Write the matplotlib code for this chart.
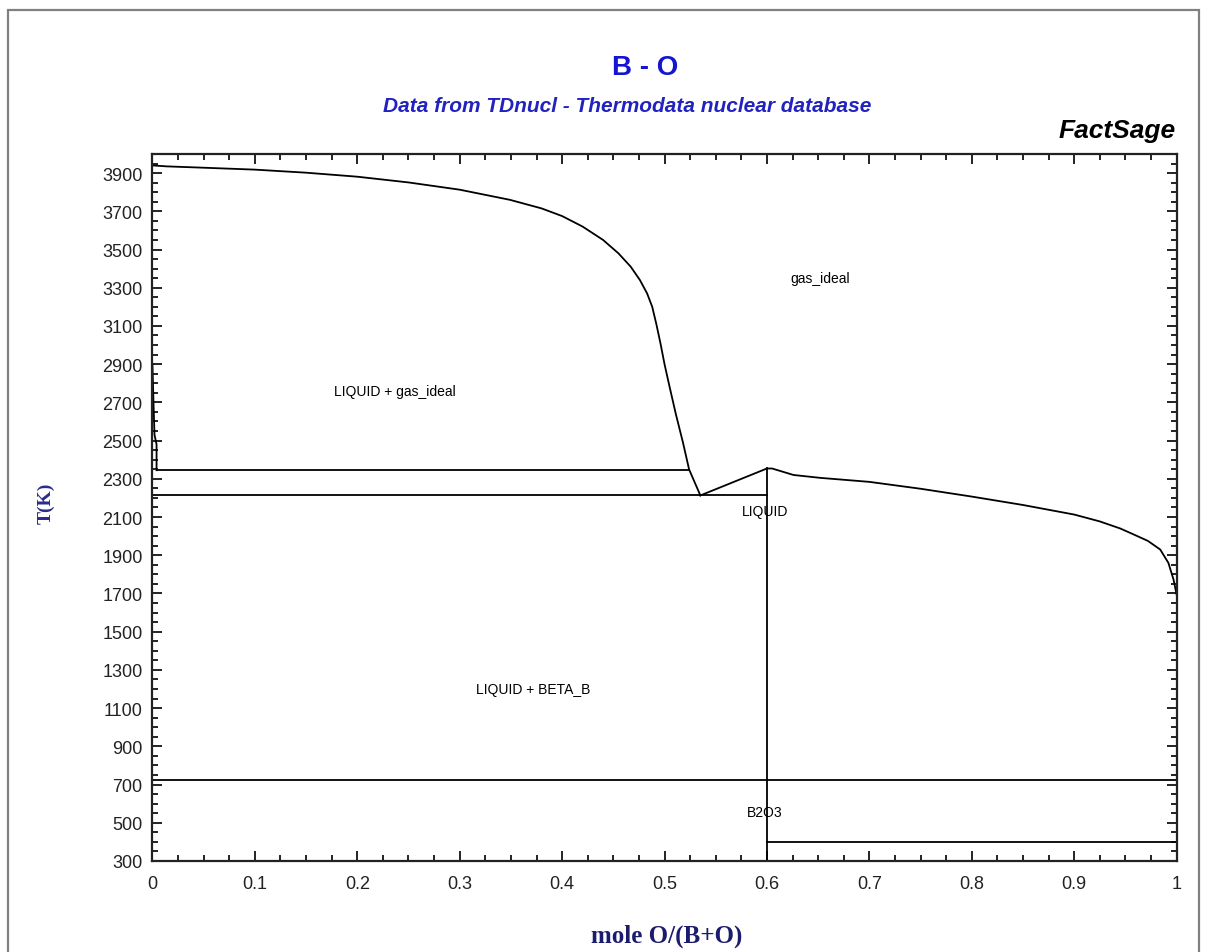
import matplotlib
matplotlib.use('Agg')
from matplotlib import pyplot as plt
from matplotlib.patches import Rectangle
from matplotlib.ticker import MultipleLocator, FixedLocator

# upper boundary: LIQUID + gas_ideal / gas_ideal (B-rich side)
top_x = [0.0, 0.014, 0.05, 0.1, 0.15, 0.2, 0.25, 0.3, 0.349, 0.38, 0.4, 0.42, 0.44, 0.455,
         0.467, 0.476, 0.483, 0.488, 0.492, 0.496, 0.5, 0.505, 0.511, 0.518, 0.524, 0.535]
top_T = [3940, 3935, 3928, 3918, 3902, 3881, 3851, 3813, 3760, 3715, 3675, 3620, 3550, 3480,
         3410, 3340, 3270, 3200, 3110, 3010, 2900, 2780, 2640, 2490, 2349, 2213]

# liquidus from eutectic up to B2O3 and on to the O side
liq_x = [0.535, 0.6, 0.605, 0.626, 0.652, 0.7, 0.75, 0.8, 0.85, 0.9, 0.925, 0.945, 0.958,
         0.972, 0.984, 0.992, 0.997, 1.0]
liq_T = [2213, 2354, 2354, 2320, 2305, 2284, 2248, 2207, 2163, 2113, 2077, 2040, 2009,
         1975, 1930, 1860, 1773, 1695]

# small boundary along x=0
left_x = [0.0, 0.001, 0.002, 0.004, 0.004]
left_T = [2900, 2700, 2530, 2480, 2345]

# invariant lines: (T, x_start, x_end)
iso_T = [2345, 2213, 723, 400]
iso_x0 = [0.004, 0.0, 0.0, 0.6]
iso_x1 = [0.524, 0.6, 1.0, 1.0]

# B2O3 compound line
comp_x = 0.6
comp_T = [300, 2354]

labels = ["gas_ideal", "LIQUID + gas_ideal", "LIQUID", "LIQUID + BETA_B", "B2O3"]
lab_x = [0.652, 0.237, 0.598, 0.372, 0.598]
lab_T = [3353, 2757, 2129, 1198, 555]

x_ticks = [0, 0.1, 0.2, 0.3, 0.4, 0.5, 0.6, 0.7, 0.8, 0.9, 1.0]
x_ticklabels = ['0', '0.1', '0.2', '0.3', '0.4', '0.5', '0.6', '0.7', '0.8', '0.9', '1']
y_ticks = list(range(300, 4000, 200))

fig = plt.figure(figsize=(12.08, 9.53), dpi=100)
ax = fig.add_axes([0.1262, 0.0955, 0.974 - 0.1262, 0.8374 - 0.0955])

lw = 1.3
ax.plot(top_x, top_T, color='black', lw=lw)
ax.plot(liq_x, liq_T, color='black', lw=lw)
ax.plot(left_x, left_T, color='black', lw=lw)
for T, a, b in zip(iso_T, iso_x0, iso_x1):
    ax.plot([a, b], [T, T], color='black', lw=lw)
ax.plot([comp_x, comp_x], comp_T, color='black', lw=lw)

for s, x, y in zip(labels, lab_x, lab_T):
    ax.text(x, y, s, fontsize=10, ha='center', va='center',
            family=['Liberation Sans', 'DejaVu Sans'])

ax.set_xlim(0, 1)
ax.set_ylim(300, 4000)
ax.xaxis.set_major_locator(FixedLocator(x_ticks))
ax.xaxis.set_minor_locator(MultipleLocator(0.025))
ax.yaxis.set_major_locator(FixedLocator(y_ticks))
ax.yaxis.set_minor_locator(MultipleLocator(50))
ax.set_xticklabels(x_ticklabels)
ax.tick_params(which='both', direction='in', top=True, right=True, width=1.4, color='#222222',
               labelsize=13, labelcolor='#222222')
ax.tick_params(which='major', length=7.2)
ax.tick_params(which='minor', length=4.3)
ax.tick_params(axis='x', pad=10)
ax.tick_params(axis='y', pad=7)
for lab in ax.get_xticklabels() + ax.get_yticklabels():
    lab.set_family(['Liberation Sans Narrow', 'Liberation Sans'])
for sp in ax.spines.values():
    sp.set_linewidth(1.6)
    sp.set_color('#222222')

fig.text(0.534, 1 - 68 / 953, 'B - O', fontsize=20, fontweight='bold', color='#1414d2',
         ha='center', va='center', family=['Liberation Sans', 'DejaVu Sans'])
fig.text(0.5195, 1 - 107 / 953, 'Data from TDnucl - Thermodata nuclear database', fontsize=15,
         fontweight='bold', style='italic', color='#2222c0', ha='center', va='center',
         family=['Liberation Sans Narrow', 'Liberation Sans'])
fig.text(0.973, 1 - 131 / 953, 'FactSage', fontsize=19, fontweight='bold', style='italic',
         color='black', ha='right', va='center', family=['Liberation Sans', 'DejaVu Sans'])
fig.text(46 / 1208, 1 - 503 / 953, 'T(K)', fontsize=14, fontweight='bold', color='#2b2b8a',
         rotation=90, ha='center', va='center', family=['Liberation Serif', 'DejaVu Serif'])
fig.text(0.552, 1 - 936 / 953, 'mole O/(B+O)', fontsize=18, fontweight='bold', color='#1c1c6e',
         ha='center', va='center', family=['Liberation Serif', 'DejaVu Serif'])

fig.add_artist(Rectangle((8 / 1208, -0.05), (1199 - 8) / 1208, 1.05 - 11 / 953,
                         transform=fig.transFigure, fill=False, edgecolor='#808080', lw=1.6))

fig.savefig('out.png', dpi=100)
